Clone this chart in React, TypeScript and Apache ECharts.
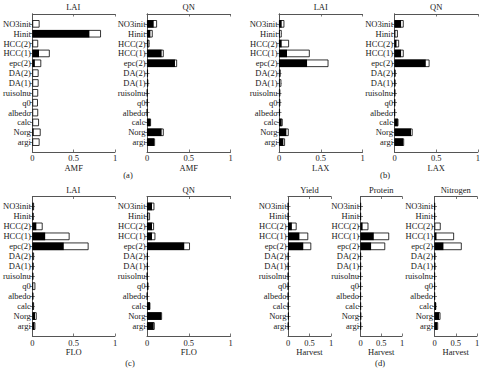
import React, { useEffect, useRef } from "react";
import * as echarts from "echarts";

const categories = ["NO3init", "Hinit", "HCC(2)", "HCC(1)", "epc(2)", "DA(2)", "DA(1)", "ruisolnu", "q0", "albedo", "calc", "Norg", "argi"];
const xTicks = [0, 0.5, 1];

// black = first-order part, white = total
const amfLaiBlack = [0.004, 0.69, 0.004, 0.08, 0.03, 0.003, 0.003, 0.002, 0.002, 0.002, 0.004, 0.015, 0.005];
const amfLaiWhite = [0.087, 0.83, 0.07, 0.21, 0.107, 0.075, 0.075, 0.07, 0.067, 0.07, 0.08, 0.1, 0.087];
const amfQnBlack = [0.08, 0.04, 0.016, 0.175, 0.335, 0.008, 0.01, 0.003, 0.003, 0.002, 0.04, 0.175, 0.084];
const amfQnWhite = [0.12, 0.068, 0.03, 0.2, 0.36, 0.012, 0.015, 0.005, 0.005, 0.003, 0.048, 0.2, 0.096];

const laxLaiBlack = [0.032, 0.008, 0.032, 0.096, 0.336, 0.006, 0.008, 0.005, 0.008, 0.004, 0.032, 0.088, 0.052];
const laxLaiWhite = [0.064, 0.032, 0.12, 0.368, 0.592, 0.02, 0.028, 0.016, 0.016, 0.012, 0.044, 0.116, 0.072];
const laxQnBlack = [0.079, 0.008, 0.024, 0.079, 0.375, 0.006, 0.006, 0.004, 0.004, 0.002, 0.04, 0.198, 0.103];
const laxQnWhite = [0.11, 0.04, 0.055, 0.11, 0.42, 0.012, 0.01, 0.008, 0.006, 0.004, 0.047, 0.217, 0.115];

const floLaiBlack = [0.01, 0.006, 0.048, 0.155, 0.38, 0.005, 0.005, 0.004, 0.008, 0.004, 0.012, 0.032, 0.024];
const floLaiWhite = [0.02, 0.016, 0.124, 0.45, 0.68, 0.02, 0.016, 0.012, 0.036, 0.012, 0.02, 0.052, 0.036];
const floQnBlack = [0.06, 0.016, 0.06, 0.06, 0.446, 0.005, 0.005, 0.003, 0.014, 0.003, 0.036, 0.17, 0.08];
const floQnWhite = [0.088, 0.036, 0.084, 0.1, 0.514, 0.008, 0.008, 0.004, 0.016, 0.004, 0.04, 0.18, 0.092];

const harvYieldBlack = [0.003, 0.003, 0.09, 0.265, 0.355, 0.003, 0.003, 0.002, 0.002, 0.002, 0.004, 0.012, 0.006];
const harvYieldWhite = [0.006, 0.006, 0.2, 0.47, 0.54, 0.008, 0.008, 0.006, 0.006, 0.006, 0.008, 0.018, 0.01];
const harvProteinBlack = [0.003, 0.003, 0.05, 0.32, 0.255, 0.003, 0.003, 0.002, 0.002, 0.002, 0.003, 0.006, 0.004];
const harvProteinWhite = [0.006, 0.006, 0.19, 0.69, 0.595, 0.006, 0.006, 0.004, 0.004, 0.004, 0.006, 0.01, 0.008];
const harvNitrogenBlack = [0.004, 0.004, 0.005, 0.047, 0.21, 0.008, 0.008, 0.003, 0.003, 0.003, 0.035, 0.11, 0.065];
const harvNitrogenWhite = [0.008, 0.008, 0.145, 0.46, 0.64, 0.014, 0.014, 0.006, 0.006, 0.006, 0.04, 0.14, 0.085];

const panels = [
  { title: "LAI", xName: "AMF", black: amfLaiBlack, white: amfLaiWhite },
  { title: "QN", xName: "AMF", black: amfQnBlack, white: amfQnWhite },
  { title: "LAI", xName: "LAX", black: laxLaiBlack, white: laxLaiWhite },
  { title: "QN", xName: "LAX", black: laxQnBlack, white: laxQnWhite },
  { title: "LAI", xName: "FLO", black: floLaiBlack, white: floLaiWhite },
  { title: "QN", xName: "FLO", black: floQnBlack, white: floQnWhite },
  { title: "Yield", xName: "Harvest", black: harvYieldBlack, white: harvYieldWhite },
  { title: "Protein", xName: "Harvest", black: harvProteinBlack, white: harvProteinWhite },
  { title: "Nitrogen", xName: "Harvest", black: harvNitrogenBlack, white: harvNitrogenWhite },
];
const panelLabels = ["(a)", "(b)", "(c)", "(d)"];

// layout (pixels)
const TOP_ROW = { top: 14, height: 138, titleY: 7, labelMargin: 1.5, nameGap: 9.5 };
const BOT_ROW = { top: 196.5, height: 139.5, titleY: 190, labelMargin: 2, nameGap: 11.5 };
const rects = [
  { left: 31.5, width: 83.5, row: TOP_ROW },
  { left: 147, width: 83.5, row: TOP_ROW },
  { left: 279, width: 83.5, row: TOP_ROW },
  { left: 394.5, width: 83.5, row: TOP_ROW },
  { left: 31.5, width: 83.5, row: BOT_ROW },
  { left: 147, width: 83.5, row: BOT_ROW },
  { left: 288, width: 43, row: BOT_ROW },
  { left: 360.5, width: 41.5, row: BOT_ROW },
  { left: 434.5, width: 42.5, row: BOT_ROW },
];
const labelPos = [
  { x: 128, y: 175 },
  { x: 385, y: 175 },
  { x: 130, y: 363 },
  { x: 380, y: 363 },
];

const FONT = '"Liberation Serif", "Times New Roman", serif';
const TXT = "#1a1a1a";
const FS = 8.5;

export default function App() {
  const ref = useRef<HTMLDivElement>(null);
  useEffect(() => {
    if (!ref.current) return;
    const chart = echarts.init(ref.current, null, { renderer: "svg" });
    const padded = ["", ...categories, ""];
    const n = padded.length;
    const frame = { show: true, lineStyle: { color: "#555", width: 1 } };
    const tick = { show: true, inside: true, length: 2.5, lineStyle: { color: "#555", width: 0.8 } };
    const grids: any[] = [];
    const xAxes: any[] = [];
    const yAxes: any[] = [];
    const series: any[] = [];
    const graphics: any[] = [];

    panels.forEach((p, i) => {
      const r = rects[i];
      grids.push({ left: r.left, top: r.row.top, width: r.width, height: r.row.height, containLabel: false });
      xAxes.push({
        type: "value", gridIndex: i, min: xTicks[0], max: xTicks[xTicks.length - 1], interval: xTicks[1] - xTicks[0],
        position: "bottom", name: p.xName, nameLocation: "middle", nameGap: r.row.nameGap,
        nameTextStyle: { fontSize: FS, fontFamily: FONT, color: TXT },
        axisLine: frame, axisTick: tick, splitLine: { show: false },
        axisLabel: { margin: r.row.labelMargin, fontSize: FS, fontFamily: FONT, color: TXT },
      });
      xAxes.push({
        type: "value", gridIndex: i, min: xTicks[0], max: xTicks[xTicks.length - 1], interval: xTicks[1] - xTicks[0],
        position: "top", axisLine: frame, axisTick: tick, splitLine: { show: false }, axisLabel: { show: false },
      });
      const tickInt = (idx: number) => idx > 0 && idx < n - 1;
      yAxes.push({
        type: "category", gridIndex: i, data: padded, inverse: true, boundaryGap: false, position: "left",
        axisLine: frame, axisTick: { ...tick, interval: tickInt },
        axisLabel: { interval: 0, margin: 1.5, fontSize: FS, fontFamily: FONT, color: TXT },
      });
      yAxes.push({
        type: "category", gridIndex: i, data: padded, inverse: true, boundaryGap: false, position: "right",
        axisLine: frame, axisTick: { ...tick, interval: tickInt }, axisLabel: { show: false },
      });
      series.push({
        type: "bar", xAxisIndex: 2 * i, yAxisIndex: 2 * i, barWidth: "76%", barGap: "-100%", silent: true,
        data: ["-", ...p.white, "-"],
        itemStyle: { color: "#fff", borderColor: "#000", borderWidth: 0.8 },
      });
      series.push({
        type: "bar", xAxisIndex: 2 * i, yAxisIndex: 2 * i, barWidth: "76%", barGap: "-100%", silent: true,
        data: ["-", ...p.black, "-"],
        itemStyle: { color: "#000" },
      });
      graphics.push({
        type: "text", x: r.left + r.width / 2, y: r.row.titleY,
        style: { text: p.title, fontSize: FS, fontFamily: FONT, fill: TXT, align: "center", verticalAlign: "middle" },
      });
    });
    panelLabels.forEach((t, i) => {
      graphics.push({
        type: "text", x: labelPos[i].x, y: labelPos[i].y,
        style: { text: t, fontSize: FS, fontFamily: FONT, fill: TXT, align: "center", verticalAlign: "middle" },
      });
    });

    chart.setOption({
      animation: false,
      backgroundColor: "#fff",
      grid: grids,
      xAxis: xAxes,
      yAxis: yAxes,
      series,
      graphic: graphics,
    });
    return () => chart.dispose();
  }, []);
  return <div ref={ref} style={{ position: "absolute", left: 0, top: 0, width: 483, height: 368 }} />;
}
